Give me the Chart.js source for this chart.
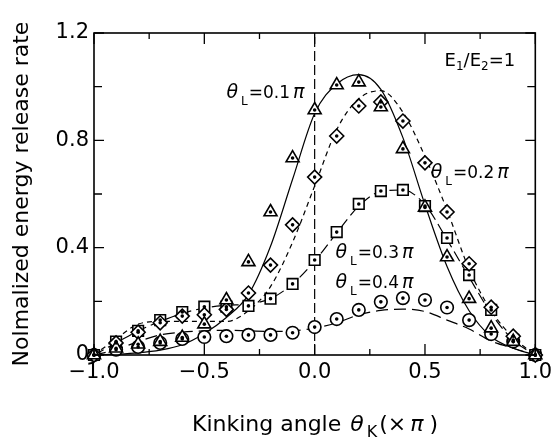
<!DOCTYPE html>
<html>
<head>
<meta charset="utf-8">
<script src="https://cdn.jsdelivr.net/npm/chart.js@4.4.1/dist/chart.umd.min.js"></script>
<style>
  html, body { margin: 0; padding: 0; background: #fff; }
  #wrap { width: 557px; height: 439px; }
</style>
</head>
<body>
<div id="wrap"><canvas id="myChart"></canvas></div>
<script>
// kinking angle (x pi), same grid for points and curves
const angles = [-1.0, -0.9, -0.8, -0.7, -0.6, -0.5, -0.4, -0.3, -0.2, -0.1, 0.0,
                0.1, 0.2, 0.3, 0.4, 0.5, 0.6, 0.7, 0.8, 0.9, 1.0];

// computed points (symbols)
const pts01 = [0, 0.025, 0.04, 0.05, 0.065, 0.115, 0.205, 0.347, 0.533, 0.734, 0.913,
               1.006, 1.017, 0.924, 0.768, 0.55, 0.365, 0.21, 0.10, 0.05, 0];
const pts02 = [0, 0.045, 0.085, 0.12, 0.145, 0.15, 0.17, 0.231, 0.335, 0.485, 0.663,
               0.816, 0.928, 0.943, 0.872, 0.716, 0.533, 0.34, 0.178, 0.07, 0];
const pts03 = [0, 0.05, 0.09, 0.13, 0.16, 0.18, 0.18, 0.183, 0.21, 0.265, 0.354,
               0.458, 0.563, 0.611, 0.615, 0.555, 0.436, 0.298, 0.168, 0.056, 0];
const pts04 = [0, 0.02, 0.03, 0.045, 0.06, 0.067, 0.07, 0.075, 0.075, 0.083, 0.104,
               0.134, 0.168, 0.198, 0.212, 0.205, 0.177, 0.13, 0.078, 0.05, 0];

// analytical curves
const curve01 = [0, 0.003, 0.008, 0.018, 0.038, 0.08, 0.14, 0.225, 0.405, 0.655, 0.90,
                 1.01, 1.045, 0.99, 0.81, 0.56, 0.33, 0.165, 0.068, 0.025, 0];
const curve02 = [0, 0.06, 0.115, 0.125, 0.125, 0.125, 0.125, 0.165, 0.255, 0.42, 0.63,
                 0.84, 0.955, 0.985, 0.905, 0.74, 0.54, 0.32, 0.165, 0.065, 0];
const curve03 = [0, 0.045, 0.09, 0.125, 0.155, 0.175, 0.185, 0.19, 0.21, 0.265, 0.35,
                 0.455, 0.555, 0.61, 0.615, 0.56, 0.43, 0.29, 0.155, 0.055, 0];
const curve04 = [0, 0.02, 0.05, 0.075, 0.085, 0.09, 0.092, 0.09, 0.088, 0.09, 0.10,
                 0.12, 0.15, 0.166, 0.171, 0.162, 0.13, 0.097, 0.052, 0.025, 0];

const xTicks = [-1.0, -0.5, 0.0, 0.5, 1.0];
const xMinor = [-0.75, -0.25, 0.25, 0.75];
const yTicks = [0, 0.4, 0.8, 1.2];
const yMinor = [0.2, 0.6, 1.0];

const FONT = "'DejaVu Sans', sans-serif";

function toXY(ys) {
  return angles.map((a, i) => ({ x: a, y: ys[i] }));
}

function curve(ys, dash, order) {
  return {
    data: toXY(ys),
    showLine: true,
    borderColor: "#000",
    borderWidth: 1.2,
    borderDash: dash,
    pointRadius: 0,
    cubicInterpolationMode: "monotone",
    clip: false,
    order: order
  };
}

function marks(ys, style, r) {
  return {
    data: toXY(ys),
    showLine: false,
    pointStyle: style,
    pointRadius: r,
    pointBorderWidth: 1.6,
    pointBorderColor: "#000",
    pointBackgroundColor: "#fff",
    clip: false,
    order: 1,
    isMarks: true
  };
}

// frame, inward ticks, centre dots and the in-plot labels
const decorations = {
  id: "decorations",
  afterDatasetsDraw(chart) {
    const ctx = chart.ctx;
    const a = chart.chartArea;
    const xs = chart.scales.x, ys = chart.scales.y;
    ctx.save();

    // centre dots in every symbol
    ctx.fillStyle = "#000";
    chart.data.datasets.forEach((ds, i) => {
      if (!ds.isMarks) return;
      chart.getDatasetMeta(i).data.forEach(p => {
        ctx.beginPath();
        ctx.arc(p.x, p.y, 1.8, 0, Math.PI * 2);
        ctx.fill();
      });
    });

    // box
    ctx.strokeStyle = "#000";
    ctx.lineWidth = 1.6;
    ctx.strokeRect(a.left, a.top, a.right - a.left, a.bottom - a.top);

    // ticks pointing into the plot
    ctx.lineWidth = 1.3;
    ctx.beginPath();
    const xt = (v, len) => {
      const px = xs.getPixelForValue(v);
      ctx.moveTo(px, a.bottom); ctx.lineTo(px, a.bottom - len);
      ctx.moveTo(px, a.top); ctx.lineTo(px, a.top + len);
    };
    const yt = (v, len) => {
      const py = ys.getPixelForValue(v);
      ctx.moveTo(a.left, py); ctx.lineTo(a.left + len, py);
      ctx.moveTo(a.right, py); ctx.lineTo(a.right - len, py);
    };
    xTicks.forEach(v => xt(v, 11));
    xMinor.forEach(v => xt(v, 6));
    yTicks.forEach(v => yt(v, 10));
    yMinor.forEach(v => yt(v, 8));
    ctx.stroke();

    // curve labels
    ctx.fillStyle = "#000";
    ctx.textBaseline = "alphabetic";
    const pieces = (x, y, list) => {
      list.forEach(p => {
        ctx.font = p.f;
        x += p.gap || 0;
        ctx.fillText(p.t, x, y + (p.dy || 0));
        x += ctx.measureText(p.t).width;
      });
    };
    const thetaLabel = (vx, vy, val) => {
      pieces(xs.getPixelForValue(vx), ys.getPixelForValue(vy), [
        { t: "\u03B8", f: "italic 19px " + FONT },
        { t: "L", f: "12px " + FONT, dy: 7, gap: 3 },
        { t: "=" + val, f: "17px " + FONT, gap: 1 },
        { t: "\u03C0", f: "italic 19px " + FONT, gap: 3 }
      ]);
    };
    thetaLabel(-0.40, 0.958, "0.1");
    thetaLabel(0.526, 0.66, "0.2");
    thetaLabel(0.094, 0.362, "0.3");
    thetaLabel(0.094, 0.25, "0.4");

    pieces(xs.getPixelForValue(0.589), ys.getPixelForValue(1.077), [
      { t: "E", f: "18px " + FONT },
      { t: "1", f: "12px " + FONT, dy: 4 },
      { t: "/E", f: "18px " + FONT },
      { t: "2", f: "12px " + FONT, dy: 4 },
      { t: "=1", f: "18px " + FONT }
    ]);

    // x axis title with subscript
    const title = [
      { t: "Kinking angle", f: "22px " + FONT },
      { t: "\u03B8", f: "italic 22px " + FONT, gap: 9 },
      { t: "K", f: "16px " + FONT, dy: 6, gap: 3 },
      { t: "(\u00D7", f: "22px " + FONT, gap: 2 },
      { t: "\u03C0", f: "italic 22px " + FONT, gap: 4 },
      { t: ")", f: "22px " + FONT, gap: 6 }
    ];
    let w = 0;
    title.forEach(p => { ctx.font = p.f; w += ctx.measureText(p.t).width + (p.gap || 0); });
    pieces(315 - w / 2, 431, title);

    ctx.restore();
  }
};

new Chart(document.getElementById("myChart"), {
  type: "scatter",
  data: {
    datasets: [
      marks(pts01, "triangle", 7.5),
      marks(pts02, "rectRot", 7),
      marks(pts03, "rect", 7.5),
      marks(pts04, "circle", 6.3),
      curve(curve01, [], 2),
      curve(curve02, [5, 4], 2),
      curve(curve03, [11, 5], 2),
      curve(curve04, [12, 6], 2),
      {
        // dividing line at zero kink
        data: [{ x: 0, y: 0 }, { x: 0, y: 1.2 }],
        showLine: true,
        borderColor: "#000",
        borderWidth: 1.2,
        borderDash: [10, 4],
        pointRadius: 0,
        order: 3
      }
    ]
  },
  options: {
    responsive: true,
    maintainAspectRatio: false,
    animation: false,
    layout: { padding: { top: 33, right: 18, left: 0, bottom: 0 } },
    plugins: { legend: { display: false }, tooltip: { enabled: false } },
    scales: {
      x: {
        type: "linear",
        min: -1,
        max: 1,
        afterBuildTicks: s => { s.ticks = xTicks.map(v => ({ value: v })); },
        afterFit: s => { s.height = 84; },
        grid: { display: false, drawTicks: false },
        border: { display: false },
        ticks: {
          color: "#000",
          padding: 5,
          maxRotation: 0,
          font: { family: FONT, size: 21 },
          callback: v => (v < 0 ? "\u2212" + Math.abs(v).toFixed(1) : v.toFixed(1))
        }
      },
      y: {
        type: "linear",
        min: 0,
        max: 1.2,
        afterBuildTicks: s => { s.ticks = yTicks.map(v => ({ value: v })); },
        afterFit: s => { s.width = 94; },
        grid: { display: false, drawTicks: false },
        border: { display: false },
        ticks: {
          color: "#000",
          padding: 5,
          font: { family: FONT, size: 21 },
          callback: v => (v === 0 ? "0" : v.toFixed(1))
        },
        title: {
          display: true,
          text: "Nolmalized energy release rate",
          color: "#000",
          font: { family: FONT, size: 22 },
          padding: { top: 9, bottom: 0 }
        }
      }
    }
  },
  plugins: [decorations]
});
</script>
</body>
</html>
